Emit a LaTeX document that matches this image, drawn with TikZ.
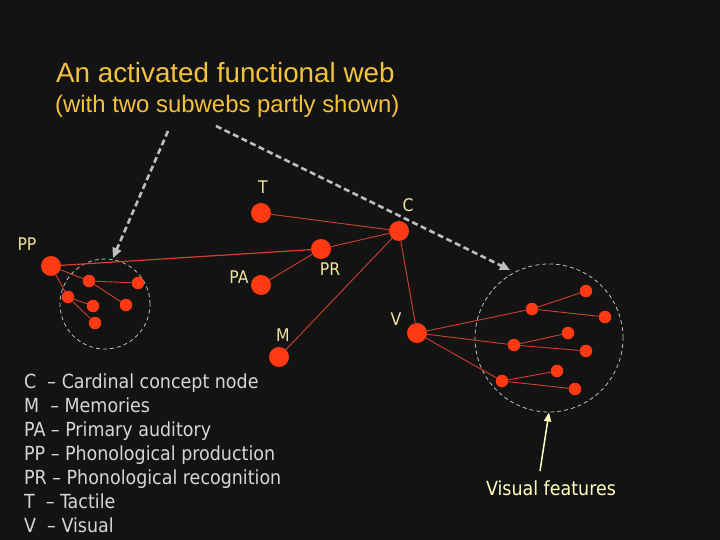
\documentclass[tikz,border=0pt]{standalone}
\usepackage{fontspec}
\setmainfont{DejaVu Sans Condensed}
\newfontfamily\titlefont{Liberation Sans}
\usetikzlibrary{arrows.meta}
\definecolor{bg}{HTML}{131313}
\definecolor{nodered}{HTML}{FF3A12}
\definecolor{edgered}{HTML}{D04030}
\definecolor{titlegold}{HTML}{F2C23E}
\definecolor{labelyellow}{HTML}{F0E2A0}
\definecolor{legendgray}{HTML}{D6D6D6}
\definecolor{dashgray}{HTML}{BEBEBE}
\definecolor{featyellow}{HTML}{FFFFC0}
\tikzset{
  bignode/.style={circle, fill=nodered, draw=none, minimum size=20bp, inner sep=0pt},
  smallnode/.style={circle, fill=nodered, draw=none, minimum size=12.5bp, inner sep=0pt},
  lbl/.style={text=labelyellow, font=\fontsize{17.5}{20}\selectfont, inner sep=0pt},
  web/.style={draw=edgered, line width=0.9bp},
  subweb/.style={draw=dashgray, line width=0.8bp, dash pattern=on 4bp off 3bp},
  pointer/.style={draw=dashgray, line width=2.6bp, dash pattern=on 6bp off 3.5bp,
    -{Triangle[length=10bp,width=9bp,fill=dashgray]}},
  legend/.style={anchor=base west, text=legendgray, font=\fontsize{19.5}{24}\selectfont, inner sep=0pt}
}
\begin{document}
\begin{tikzpicture}[x=1bp,y=-1bp]
\fill[bg] (0,0) rectangle (720,540);
\useasboundingbox (0,0) rectangle (720,540);

% title
\node[anchor=base west, text=titlegold, font=\titlefont\fontsize{27.9}{32}\selectfont, inner sep=0pt] (title) at (56,83) {An activated functional web};
\node[anchor=base west, text=titlegold, font=\titlefont\fontsize{24}{28}\selectfont, inner sep=0pt] (subtitle) at (55,113) {(with two subwebs partly shown)};

% subweb circles
\node[subweb, circle, minimum size=90bp, inner sep=0pt] (leftweb) at (105,304) {};
\node[subweb, circle, minimum size=148bp, inner sep=0pt] (rightweb) at (549,338) {};

% main nodes
\node[bignode] (PP) at (51,266) {};
\node[bignode] (T) at (261,213) {};
\node[bignode] (C) at (399,231) {};
\node[bignode] (PR) at (321,249) {};
\node[bignode] (PA) at (261,285) {};
\node[bignode] (M) at (279,357) {};
\node[bignode] (V) at (417,333) {};

% left subweb nodes
\node[smallnode] (l1) at (89,281) {};
\node[smallnode] (l2) at (138,283) {};
\node[smallnode] (l3) at (68,297) {};
\node[smallnode] (l4) at (93,306) {};
\node[smallnode] (l5) at (126,305) {};
\node[smallnode] (l6) at (95,323) {};

% right subweb nodes
\node[smallnode] (r1) at (532,309) {};
\node[smallnode] (r1a) at (586,291) {};
\node[smallnode] (r1b) at (605,317) {};
\node[smallnode] (r2) at (514,345) {};
\node[smallnode] (r2a) at (568,333) {};
\node[smallnode] (r2b) at (586,351) {};
\node[smallnode] (r3) at (502,381) {};
\node[smallnode] (r3a) at (557,371) {};
\node[smallnode] (r3b) at (575,389) {};

% labels
\node[lbl] (Tl) at (263,187) {T};
\node[lbl] (Cl) at (408,205) {C};
\node[lbl] (PPl) at (27,244) {PP};
\node[lbl] (PRl) at (330,269) {PR};
\node[lbl] (PAl) at (239,277) {PA};
\node[lbl] (Ml) at (283,335) {M};
\node[lbl] (Vl) at (396,319) {V};

% connectors
\draw[web, line width=1.2bp] (PP) -- (PR);
\draw[web] (T) -- (C);
\draw[web] (PR) -- (C);
\draw[web] (PA) -- (PR);
\draw[web] (M) -- (C);
\draw[web] (V) -- (C);
\draw[web] (PP) -- (l1);
\draw[web] (PP) -- (l3);
\draw[web] (l1) -- (l2);
\draw[web] (l1) -- (l5);
\draw[web] (l3) -- (l4);
\draw[web] (l3) -- (l6);
\draw[web] (V) -- (r1);
\draw[web] (V) -- (r2);
\draw[web] (V) -- (r3);
\draw[web] (r1) -- (r1a);
\draw[web] (r1) -- (r1b);
\draw[web] (r2) -- (r2a);
\draw[web] (r2) -- (r2b);
\draw[web] (r3) -- (r3a);
\draw[web] (r3) -- (r3b);

% pointers
\coordinate (p1s) at (168,131);
\coordinate (p1e) at (113,258);
\coordinate (p2s) at (216,126);
\coordinate (p2e) at (510,270);
\draw[pointer] (p1s) -- (p1e);
\draw[pointer] (p2s) -- (p2e);

% visual features
\node[text=featyellow, font=\fontsize{19.5}{24}\selectfont, inner sep=0pt] (vf) at (551,488) {Visual features};
\coordinate (vfs) at (540,471);
\draw[featyellow, line width=1.5bp, -{Triangle[length=9bp,width=7bp]}] (vfs) -- (rightweb.south);

% legend
\node[legend] (lg1) at (24,388) {C\ \ – Cardinal concept node};
\node[legend] (lg2) at (24,412) {M\ \ – Memories};
\node[legend] (lg3) at (24,436) {PA – Primary auditory};
\node[legend] (lg4) at (24,460) {PP – Phonological production};
\node[legend] (lg5) at (24,484) {PR – Phonological recognition};
\node[legend] (lg6) at (24,508) {T\ \ – Tactile};
\node[legend] (lg7) at (24,532) {V\ \ – Visual};
\end{tikzpicture}
\end{document}
